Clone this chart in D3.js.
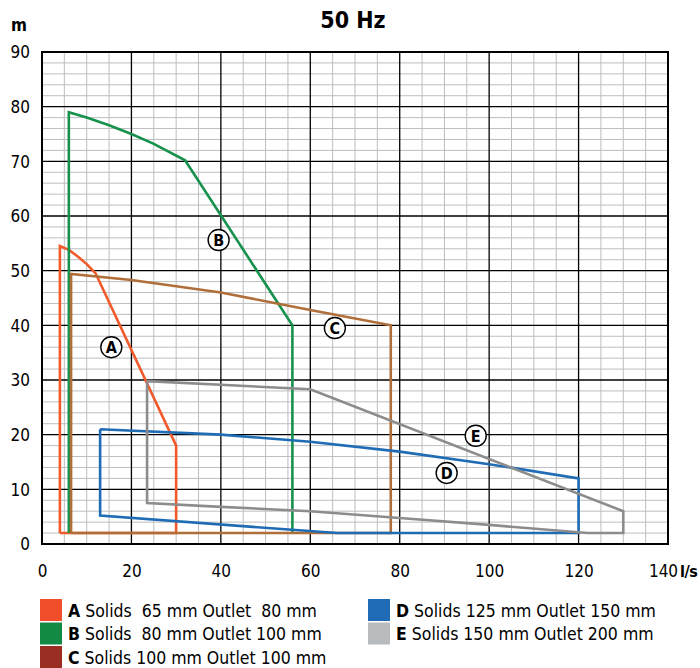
<!DOCTYPE html>
<html><head><meta charset="utf-8">
<script src="https://cdn.jsdelivr.net/npm/d3@7"></script>
<style>body{margin:0;background:#fff}svg{display:block}text{font-family:"Liberation Sans Narrow","DejaVu Sans Condensed","Liberation Sans",sans-serif}</style>
</head><body>
<script>
// ---- data ----
const categories = ["A","B","C","D","E"];
const legendLabels = ["Solids  65 mm Outlet  80 mm","Solids  80 mm Outlet 100 mm","Solids 100 mm Outlet 100 mm","Solids 125 mm Outlet 150 mm","Solids 150 mm Outlet 200 mm"];
const lineColors = ["#f15a2b","#17924c","#b06f3a","#1f6cb5","#8c8c8c"];
const legendColors = ["#f04e2a","#138a44","#9a2e22","#1f6bb5","#b9bcbf"];
const curveA = [[4,2],[4,54.5],[6,53.8],[8,52.6],[10,51.2],[12,49.5],[30,18],[30,2],[4,2]];
const curveB = [[6,2],[6,79],[10,78],[15,76.6],[20,75],[25,73.2],[32,70.2],[56,40],[56,2]];
const curveC = [[6.5,2],[6.5,49.4],[20,48.3],[40,46],[60,42.8],[78,40],[78,2],[6.5,2]];
const curveD = [[13,21],[40,20],[60,18.7],[80,16.9],[100,14.6],[120,12],[120,2],[66,2],[13,5.2],[13,21]];
const curveE = [[23.5,29.8],[60,28.3],[130,6],[130,2],[122,2],[100,3.5],[80,4.75],[60,6],[40,6.8],[23.5,7.5],[23.5,29.8]];
const curves = [curveA,curveB,curveC,curveD,curveE];
const labelPos = [[15.5,36],[39.5,55.6],[65.5,39.5],[90.5,13],[97,19.8]];
const xTicks = [0,20,40,60,80,100,120,140];
const yTicks = [0,10,20,30,40,50,60,70,80,90];

// ---- layout ----
const W=700,H=668;
const svg=d3.select("body").append("svg").attr("width",W).attr("height",H);
const x=d3.scaleLinear().domain([0,140]).range([42,668]);
const y=d3.scaleLinear().domain([0,90]).range([544,52]);

// minor grid
const g=svg.append("g");
g.selectAll("line.mx").data(d3.range(0,141,5).filter(v=>v%20)).join("line")
 .attr("x1",d=>x(d)).attr("x2",d=>x(d)).attr("y1",y(0)).attr("y2",y(90))
 .attr("stroke","#bcbec0").attr("stroke-width",1);
g.selectAll("line.my").data(d3.range(0,91,2).filter(v=>v%10)).join("line")
 .attr("y1",d=>y(d)).attr("y2",d=>y(d)).attr("x1",x(0)).attr("x2",x(140))
 .attr("stroke","#bcbec0").attr("stroke-width",1);
// major grid
g.selectAll("line.Mx").data(xTicks).join("line")
 .attr("x1",d=>x(d)).attr("x2",d=>x(d)).attr("y1",y(0)).attr("y2",y(90))
 .attr("stroke","#000").attr("stroke-width",1.3);
g.selectAll("line.My").data(yTicks).join("line")
 .attr("y1",d=>y(d)).attr("y2",d=>y(d)).attr("x1",x(0)).attr("x2",x(140))
 .attr("stroke","#000").attr("stroke-width",1.3);
svg.append("rect").attr("x",x(0)).attr("y",y(90)).attr("width",x(140)-x(0)).attr("height",y(0)-y(90))
 .attr("fill","none").attr("stroke","#000").attr("stroke-width",2);

// axes labels
const xa=d3.axisBottom(x).tickValues(xTicks).tickSize(0).tickPadding(0);
const gx=svg.append("g").attr("transform",`translate(0,${y(0)+33})`).call(xa);
gx.select(".domain").remove();
gx.selectAll("text").attr("font-size",17).attr("fill","#000").attr("dy","0");
gx.selectAll(".tick").filter(d=>d===140).select("text").attr("dx","-5");
const ya=d3.axisLeft(y).tickValues(yTicks).tickSize(0).tickPadding(0);
const gy=svg.append("g").attr("transform",`translate(30,0)`).call(ya);
gy.select(".domain").remove();
gy.selectAll("text").attr("font-size",17).attr("fill","#000").attr("dy","0.34em");

svg.append("text").attr("x",680).attr("y",y(0)+33).attr("font-size",16).attr("font-weight","bold").attr("letter-spacing","-0.5").text("l/s");
svg.append("text").attr("x",11).attr("y",31).attr("font-size",17).attr("font-weight","bold").text("m");
svg.append("text").attr("x",353).attr("y",28).attr("text-anchor","middle").attr("font-size",23).attr("font-weight","bold").text("50 Hz");

// curves
const line=d3.line().x(d=>x(d[0])).y(d=>y(d[1]));
svg.append("g").selectAll("path").data(curves).join("path")
 .attr("d",line).attr("fill","none").attr("stroke",(d,i)=>lineColors[i]).attr("stroke-width",2.6)
 .attr("stroke-linejoin","miter");

// circled labels
const lg=svg.append("g").selectAll("g").data(labelPos).join("g")
 .attr("transform",d=>`translate(${x(d[0])},${y(d[1])})`);
lg.append("circle").attr("r",10.5).attr("fill","#fff").attr("stroke","#000").attr("stroke-width",1.4);
lg.append("text").attr("text-anchor","middle").attr("dy","0.36em").attr("font-size",16).attr("font-weight","bold")
 .attr("font-family","'Liberation Sans',sans-serif").text((d,i)=>categories[i]);

// legend
const leg=svg.append("g").selectAll("g").data(categories).join("g")
 .attr("transform",(d,i)=>i<3?`translate(40,${599+i*23.5})`:`translate(368,${599+(i-3)*23.5})`);
leg.append("rect").attr("width",22).attr("height",22).attr("fill",(d,i)=>legendColors[i]);
const lt=leg.append("text").attr("x",28).attr("y",17.5).attr("font-size",17.5).attr("fill","#000").style("white-space","pre");
lt.append("tspan").attr("font-weight","bold").text(d=>d);
lt.append("tspan").text((d,i)=>" "+legendLabels[i]);
</script>
</body></html>
